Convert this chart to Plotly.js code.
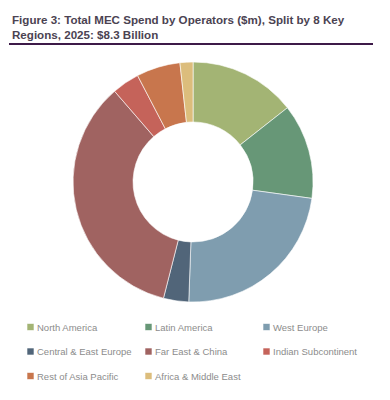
<!DOCTYPE html>
<html>
<head>
<meta charset="utf-8">
<script src="https://cdn.plot.ly/plotly-3.0.1.min.js"></script>
<style>html,body{margin:0;padding:0;background:#fff;}#chart{width:390px;height:400px;}</style>
</head>
<body>
<div id="chart"></div>
<script>
const regions = ["North America", "Latin America", "West Europe", "Central & East Europe", "Far East & China", "Indian Subcontinent", "Rest of Asia Pacific", "Africa & Middle East"];
const spendMillions = [1195, 1062, 1942, 282, 2880, 307, 490, 145];
const sliceColors = ["#a3b474", "#679777", "#7f9daf", "#516579", "#a06361", "#c5635a", "#c8764d", "#dcbd7c"];
const chartTitle = "Figure 3: Total MEC Spend by Operators ($m), Split by 8 Key<br>Regions, 2025: $8.3 Billion";

const trace = {
  type: "pie",
  labels: regions,
  values: spendMillions,
  marker: {colors: sliceColors, line: {color: "#ffffff", width: 0.6}},
  hole: 0.5,
  sort: false,
  direction: "clockwise",
  rotation: 0,
  textinfo: "none",
  hoverinfo: "label+value+percent",
  domain: {x: [0.187, 0.803], y: [0.245, 0.845]}
};

const layout = {
  width: 390, height: 400,
  margin: {l: 0, r: 0, t: 0, b: 0},
  paper_bgcolor: "#ffffff",
  font: {family: "Liberation Sans, Arial, sans-serif"},
  title: {
    text: chartTitle,
    x: 12/390, xanchor: "left", xref: "paper",
    y: 1 - 24/400, yanchor: "top", yref: "container",
    font: {size: 11.6, color: "#4b4352", family: "Liberation Sans, Arial, sans-serif", weight: "bold"}
  },
  showlegend: true,
  legend: {
    orientation: "h",
    x: 0.035, xanchor: "left",
    y: 0.21, yanchor: "top",
    entrywidth: 78, entrywidthmode: "pixels",
    font: {size: 9.5, color: "#8c8c8c"},
    traceorder: "normal"
  },
  shapes: [{type: "line", xref: "paper", yref: "paper", x0: 9/390, x1: 373/390, y0: 1 - 44/400, y1: 1 - 44/400, line: {color: "#3d1a48", width: 1.8}}]
};

// legend grid styling (pixel positions of the legend layout, not data)
const legendCols = [27, 145, 263];
const legendRows = [327, 351.5, 376];
const swatchSize = 7;
const swatchTextGap = 3;

const gd = document.getElementById("chart");
Plotly.newPlot(gd, [trace], layout, {displayModeBar: false, staticPlot: true}).then(function () {
  const legend = gd.querySelector("g.legend");
  if (!legend) return;
  const m = /translate\(\s*([-\d.]+)[ ,]+([-\d.]+)/.exec(legend.getAttribute("transform") || "");
  const lx = m ? parseFloat(m[1]) : 0, ly = m ? parseFloat(m[2]) : 0;
  const box = legend.querySelector("rect.bg");
  if (box) box.setAttribute("width", 0);
  const items = legend.querySelectorAll("g.traces");
  items.forEach(function (g, i) {
    const col = i % 3, row = Math.floor(i / 3);
    g.setAttribute("transform", "translate(" + (legendCols[col] - lx) + "," + (legendRows[row] - ly) + ")");
    const h = swatchSize / 2;
    g.querySelectorAll("path.legendpie").forEach(function (p) {
      p.setAttribute("d", "M" + h + "," + h + "H" + (-h) + "V" + (-h) + "H" + h + "Z");
      p.setAttribute("transform", "translate(" + h + ",0)");
    });
    const t = g.querySelector("text.legendtext");
    if (t) t.setAttribute("x", swatchSize + swatchTextGap);
  });
});
</script>
</body>
</html>
